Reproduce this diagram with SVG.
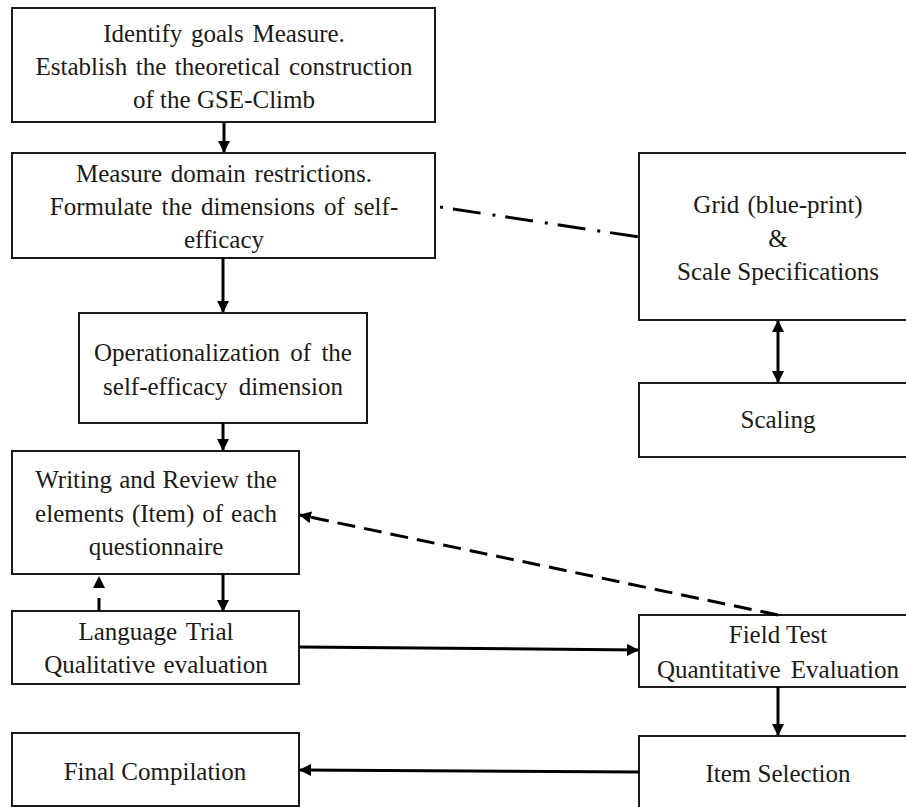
<svg xmlns="http://www.w3.org/2000/svg" width="906" height="807" viewBox="0 0 906 807">
<style>
.box{fill:#fff;stroke:#1a1a1a;stroke-width:2}
.t{font-family:'Liberation Serif',serif;font-size:25px;fill:#1a1a1a;text-anchor:middle}
.c{fill:none;stroke:#000;stroke-width:3}
</style>
<defs>
<marker id="ah" viewBox="0 0 12 12" refX="11" refY="6" markerWidth="12" markerHeight="12" markerUnits="userSpaceOnUse" orient="auto-start-reverse">
<path d="M0,0 L12,6 L0,12 z" fill="#000"/>
</marker>
</defs>
<rect width="906" height="807" fill="#fff"/>
<g id="n1"><rect class="box" x="12" y="8" width="423" height="114"/>
<text class="t" x="224" y="42" word-spacing="2.5">Identify goals Measure.</text>
<text class="t" x="224" y="75" word-spacing="2.3">Establish the theoretical construction</text>
<text class="t" x="224" y="108">of the GSE-Climb</text></g>
<g id="n2"><rect class="box" x="12" y="153" width="423" height="105"/>
<text class="t" x="224" y="182" word-spacing="2.5">Measure domain restrictions.</text>
<text class="t" x="224" y="215" word-spacing="2.75">Formulate the dimensions of self-</text>
<text class="t" x="224" y="248">efficacy</text></g>
<g id="n3"><rect class="box" x="79" y="313" width="288" height="110"/>
<text class="t" x="223" y="361" word-spacing="4">Operationalization of the</text>
<text class="t" x="223" y="395" word-spacing="5">self-efficacy dimension</text></g>
<g id="n4"><rect class="box" x="12" y="451" width="287" height="123"/>
<text class="t" x="156" y="488" word-spacing="1">Writing and Review the</text>
<text class="t" x="156" y="522" word-spacing="1.7">elements (Item) of each</text>
<text class="t" x="156" y="555">questionnaire</text></g>
<g id="n5"><rect class="box" x="12" y="611" width="287" height="73"/>
<text class="t" x="156" y="640" word-spacing="3">Language Trial</text>
<text class="t" x="156" y="673" word-spacing="2">Qualitative evaluation</text></g>
<g id="n6"><rect class="box" x="12" y="733" width="287" height="73"/>
<text class="t" x="155" y="780">Final Compilation</text></g>
<g id="n7"><rect class="box" x="639" y="153" width="280" height="167"/>
<text class="t" x="778" y="213" word-spacing="2">Grid (blue-print)</text>
<text class="t" x="778" y="247">&amp;</text>
<text class="t" x="778" y="280">Scale Specifications</text></g>
<g id="n8"><rect class="box" x="639" y="383" width="280" height="74"/>
<text class="t" x="778" y="428">Scaling</text></g>
<g id="n9"><rect class="box" x="639" y="615" width="280" height="72"/>
<text class="t" x="778" y="643">Field Test</text>
<text class="t" x="778" y="678" word-spacing="4">Quantitative Evaluation</text></g>
<g id="n10"><rect class="box" x="639" y="736" width="280" height="80"/>
<text class="t" x="778" y="782">Item Selection</text></g>
<g id="connectors">
<line class="c" x1="224" y1="122" x2="224" y2="152" marker-end="url(#ah)"/>
<line class="c" x1="223" y1="258" x2="223" y2="312" marker-end="url(#ah)"/>
<line class="c" x1="223" y1="423" x2="223" y2="450" marker-end="url(#ah)"/>
<line class="c" x1="223" y1="574" x2="223" y2="611" marker-end="url(#ah)"/>
<line class="c" x1="99" y1="611" x2="99" y2="577" stroke-dasharray="13 100" marker-end="url(#ah)"/>
<line class="c" x1="299" y1="647" x2="638" y2="650" marker-end="url(#ah)"/>
<line class="c" x1="778" y1="615" x2="300" y2="515" stroke-dasharray="18 9" marker-end="url(#ah)"/>
<line class="c" x1="778" y1="687" x2="778" y2="735" marker-end="url(#ah)"/>
<line class="c" x1="639" y1="772" x2="300" y2="770" marker-end="url(#ah)"/>
<line class="c" x1="778" y1="321" x2="778" y2="382" marker-start="url(#ah)" marker-end="url(#ah)"/>
<line class="c" x1="440" y1="207" x2="639" y2="237" stroke-dasharray="3 10 28 12"/>
</g>
</svg>
